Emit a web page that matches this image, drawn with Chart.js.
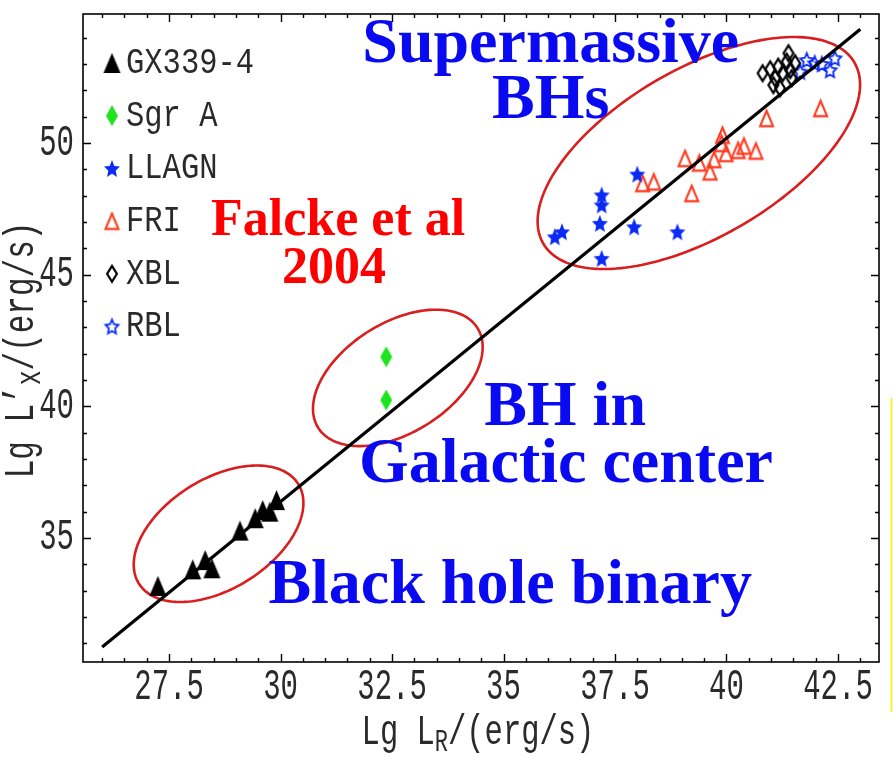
<!DOCTYPE html>
<html>
<head>
<meta charset="utf-8">
<script src="https://cdn.jsdelivr.net/npm/chart.js@4/dist/chart.umd.min.js"></script>
<style>
  html, body { margin: 0; padding: 0; background: #fff; }
  #wrap { width: 893px; height: 757px; position: relative; }
</style>
</head>
<body>
<div id="wrap"><canvas id="plane" width="893" height="757"></canvas></div>
<script>
// Radio / X-ray luminosity plane of accreting black holes (Falcke et al. 2004)
// Each point: [lg L_R, lg L'_X]

const gx339 = [[27.25,33.18],[28.03,33.81],[28.31,34.16],[28.46,33.85],[29.09,35.28],
               [29.43,35.75],[29.60,36.06],[29.76,36.00],[29.91,36.44]];
const sgrA  = [[32.37,41.88],[32.37,40.24]];
const llagn = [[36.15,46.44],[36.31,46.63],[37.20,48.03],[37.20,47.65],[37.16,46.95],
               [37.20,45.62],[37.93,46.82],[38.00,48.82],[38.90,46.63]];
const fri   = [[38.12,48.47],[38.37,48.53],[39.22,48.09],[39.07,49.42],[39.39,49.25],
               [39.63,48.91],[39.72,49.38],[39.91,50.30],[39.89,49.99],[39.99,49.61],
               [40.26,49.73],[40.39,49.89],[40.66,49.70],[40.90,50.94],[42.11,51.32]];
const xbl   = [[40.81,52.65],[40.98,52.80],[41.05,52.20],[41.09,52.46],[41.16,52.90],
               [41.20,52.08],[41.26,52.65],[41.35,53.09],[41.39,53.41],[41.43,52.77],
               [41.46,52.46],[41.54,53.03]];
const rbl   = [[41.65,52.71],[41.80,53.15],[41.98,53.03],[42.14,53.00],[42.32,52.77],[42.43,53.22]];

// fitted plane, slope ~1.38
const fitLine = [[26.0,30.86],[43.0,54.32]];

const xTickLabels = [27.5, 30, 32.5, 35, 37.5, 40, 42.5];
const yTickLabels = [35, 40, 45, 50];
const xMinorStep = 0.5;
const yMinorStep = 1;
const xRange = [25.57, 43.42];
const yRange = [30.29, 54.9];

// source groups, outlined in data units: centre + two conjugate semi-axes
const groupOutlines = [
  { c: [28.61, 35.16], u: [1.787, 1.891], v: [0.653, -1.771] },
  { c: [32.63, 41.08], u: [1.787, 1.891], v: [0.653, -1.771] },
  { c: [39.38, 49.62], u: [3.489, 3.437], v: [0.948, -2.757] }
];

const annotations = [
  { text: 'Supermassive',      x: 36.06, y: 53.08, color: '#0a0af2', size: 64 },
  { text: 'BHs',               x: 36.06, y: 50.95, color: '#0a0af2', size: 64 },
  { text: 'Falcke et al',      x: 31.29, y: 46.51, color: '#ff0000', size: 52 },
  { text: '2004',              x: 31.20, y: 44.68, color: '#ff0000', size: 52 },
  { text: 'BH in',             x: 36.38, y: 39.29, color: '#0a0af2', size: 64 },
  { text: 'Galactic center',   x: 36.40, y: 37.12, color: '#0a0af2', size: 64 },
  { text: 'Black hole binary', x: 35.15, y: 32.53, color: '#0a0af2', size: 64 }
];

// ---- marker glyphs (slightly tall, as in the original plotting style)
function markerCanvas(w, h, draw) {
  const pad = 2;
  const c = document.createElement('canvas');
  c.width = Math.round(w + pad * 2);
  c.height = Math.round(h + pad * 2);
  const g = c.getContext('2d');
  g.translate(pad, pad);
  draw(g, w, h);
  return c;
}
function trianglePath(g, w, h, i) {
  g.beginPath();
  g.moveTo(w / 2, i); g.lineTo(w - i, h - i * 0.6); g.lineTo(i, h - i * 0.6); g.closePath();
}
function diamondPath(g, w, h, i) {
  g.beginPath();
  g.moveTo(w / 2, i); g.lineTo(w - i, h / 2); g.lineTo(w / 2, h - i); g.lineTo(i, h / 2); g.closePath();
}
function starPath(g, w, h, i, inner) {
  const R = (w - 2 * i) / (2 * Math.cos(Math.PI / 10));
  const sy = (h - 2 * i) / (R * (1 + Math.cos(Math.PI / 5)));
  const cx = w / 2, cy = i + R * sy;
  g.beginPath();
  for (let k = 0; k < 10; k++) {
    const r = k % 2 === 0 ? R : R * inner;
    const a = -Math.PI / 2 + k * Math.PI / 5;
    const px = cx + r * Math.cos(a), py = cy + r * Math.sin(a) * sy;
    if (k === 0) g.moveTo(px, py); else g.lineTo(px, py);
  }
  g.closePath();
}

const markGX  = markerCanvas(17, 20, (g, w, h) => { trianglePath(g, w, h, 0); g.fillStyle = '#000'; g.fill(); });
const markSgr = markerCanvas(12, 21, (g, w, h) => { diamondPath(g, w, h, 0); g.fillStyle = '#1fe31f'; g.fill(); });
const markLL  = markerCanvas(16, 17, (g, w, h) => { starPath(g, w, h, 0, 0.46); g.fillStyle = '#0b2bf5'; g.fill(); });
const markFRI = markerCanvas(15, 17, (g, w, h) => { trianglePath(g, w, h, 1); g.strokeStyle = '#ff3a1f'; g.lineWidth = 2.1; g.lineJoin = 'miter'; g.stroke(); });
const markXBL = markerCanvas(12, 18, (g, w, h) => { diamondPath(g, w, h, 1.1); g.strokeStyle = '#000'; g.lineWidth = 2.2; g.stroke(); });
const markRBL = markerCanvas(15, 16, (g, w, h) => { starPath(g, w, h, 1, 0.48); g.strokeStyle = '#0b2bf5'; g.lineWidth = 1.8; g.stroke(); });

const toXY = arr => arr.map(p => ({ x: p[0], y: p[1] }));

// ---- text helper: vertically stretched glyphs
function tallText(ctx, txt, x, y, sy, align, rot) {
  ctx.save();
  ctx.translate(x, y);
  if (rot) ctx.rotate(rot);
  ctx.scale(1, sy);
  ctx.textAlign = align;
  ctx.textBaseline = 'middle';
  ctx.fillText(txt, 0, 0);
  ctx.restore();
}

// label made of runs: [text, sizeFactor, baselineShift]
function runsLabel(ctx, runs, cx, cy, size, sy, rot) {
  ctx.save();
  ctx.translate(cx, cy);
  if (rot) ctx.rotate(rot);
  ctx.scale(1, sy);
  ctx.textBaseline = 'middle';
  ctx.textAlign = 'left';
  let total = 0;
  runs.forEach(r => { ctx.font = (size * r[1]) + 'px "Liberation Mono"'; total += ctx.measureText(r[0]).width; });
  let x = -total / 2;
  runs.forEach(r => {
    ctx.font = (size * r[1]) + 'px "Liberation Mono"';
    ctx.fillText(r[0], x, r[2]);
    x += ctx.measureText(r[0]).width;
  });
  ctx.restore();
}

const outlinePlugin = {
  id: 'groupOutlines',
  beforeDatasetsDraw(chart) {
    const { ctx, scales: { x, y } } = chart;
    ctx.save();
    ctx.strokeStyle = '#d81e1e';
    ctx.lineWidth = 2.6;
    groupOutlines.forEach(e => {
      ctx.beginPath();
      for (let k = 0; k <= 180; k++) {
        const t = k / 180 * Math.PI * 2;
        const dx = e.c[0] + e.u[0] * Math.cos(t) + e.v[0] * Math.sin(t);
        const dy = e.c[1] + e.u[1] * Math.cos(t) + e.v[1] * Math.sin(t);
        const px = x.getPixelForValue(dx), py = y.getPixelForValue(dy);
        if (k === 0) ctx.moveTo(px, py); else ctx.lineTo(px, py);
      }
      ctx.closePath();
      ctx.stroke();
    });
    ctx.restore();
  }
};

const framePlugin = {
  id: 'mathFrame',
  afterDatasetsDraw(chart) {
    const { ctx, chartArea: a, scales: { x, y } } = chart;
    ctx.save();

    // annotations
    annotations.forEach(t => {
      ctx.font = 'bold ' + t.size + 'px "Liberation Serif"';
      ctx.fillStyle = t.color;
      ctx.textAlign = 'center';
      ctx.textBaseline = 'alphabetic';
      ctx.fillText(t.text, x.getPixelForValue(t.x), y.getPixelForValue(t.y));
    });

    // frame
    ctx.strokeStyle = '#000';
    ctx.lineWidth = 1.6;
    ctx.strokeRect(a.left, a.top, a.right - a.left, a.bottom - a.top);

    // inward ticks on all four sides
    ctx.lineWidth = 1.4;
    const majorLen = 8, minorLen = 4;
    const isMajor = (v, list) => list.some(m => Math.abs(m - v) < 1e-6);
    ctx.beginPath();
    for (let v = Math.ceil(xRange[0] / xMinorStep) * xMinorStep; v <= xRange[1]; v += xMinorStep) {
      const px = Math.round(x.getPixelForValue(v)) + 0.5;
      const len = isMajor(v, xTickLabels) ? majorLen : minorLen;
      ctx.moveTo(px, a.bottom); ctx.lineTo(px, a.bottom - len);
      ctx.moveTo(px, a.top); ctx.lineTo(px, a.top + len);
    }
    for (let v = Math.ceil(yRange[0] / yMinorStep) * yMinorStep; v <= yRange[1]; v += yMinorStep) {
      const py = Math.round(y.getPixelForValue(v)) + 0.5;
      const len = isMajor(v, yTickLabels) ? majorLen : minorLen;
      ctx.moveTo(a.left, py); ctx.lineTo(a.left + len, py);
      ctx.moveTo(a.right, py); ctx.lineTo(a.right - len, py);
    }
    ctx.stroke();

    // tick labels
    ctx.fillStyle = '#2a2a2a';
    ctx.font = '29px "Liberation Mono"';
    xTickLabels.forEach(v => tallText(ctx, String(v), x.getPixelForValue(v), a.bottom + 25, 1.5, 'center'));
    yTickLabels.forEach(v => tallText(ctx, String(v), a.left - 9, y.getPixelForValue(v), 1.5, 'right'));

    // axis titles
    runsLabel(ctx, [['Lg L', 1, 0], ['R', 0.72, 7], ['/(erg/s)', 1, 0]], 478, 733, 30.5, 1.4, 0);
    runsLabel(ctx, [['Lg L\u2019', 1, 0], ['x', 0.8, 6], ['/(erg/s)', 1, 0]], 22, 350, 31, 1.4, -Math.PI / 2);

    // legend
    const items = chart.data.datasets.filter(d => d.showInKey);
    items.forEach((d, i) => {
      const cy = 63 + i * 52.7;
      const img = d.pointStyle;
      ctx.drawImage(img, 112 - img.width / 2, cy - img.height / 2);
      ctx.fillStyle = '#2a2a2a';
      ctx.font = '30.5px "Liberation Mono"';
      tallText(ctx, d.label, 126, cy, 1.22, 'left');
    });

    // thin yellow rule at the right edge
    ctx.strokeStyle = '#f7f23a';
    ctx.lineWidth = 2;
    ctx.beginPath();
    ctx.moveTo(891.5, 398); ctx.lineTo(891.5, 712);
    ctx.stroke();

    ctx.restore();
  }
};

const pt = (label, arr, mark) => ({
  label, data: toXY(arr), pointStyle: mark, showInKey: true, order: 2, pointRadius: 8
});

new Chart(document.getElementById('plane'), {
  type: 'scatter',
  data: {
    datasets: [
      { type: 'line', label: 'fit', data: toXY(fitLine), borderColor: '#000', borderWidth: 3.2,
        pointRadius: 0, showLine: true, fill: false, order: 1, showInKey: false },
      pt('GX339-4', gx339, markGX),
      pt('Sgr A', sgrA, markSgr),
      pt('LLAGN', llagn, markLL),
      pt('FRI', fri, markFRI),
      pt('XBL', xbl, markXBL),
      pt('RBL', rbl, markRBL)
    ]
  },
  options: {
    responsive: false,
    animation: false,
    events: [],
    layout: { padding: { left: 83, top: 14, right: 14, bottom: 95 } },
    scales: {
      x: { type: 'linear', min: xRange[0], max: xRange[1], display: false },
      y: { type: 'linear', min: yRange[0], max: yRange[1], display: false }
    },
    plugins: { legend: { display: false }, tooltip: { enabled: false } }
  },
  plugins: [outlinePlugin, framePlugin]
});
</script>
</body>
</html>
